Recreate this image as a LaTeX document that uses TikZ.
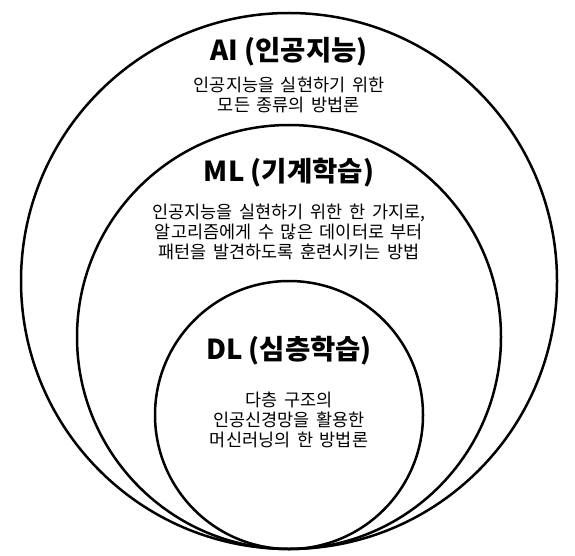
\documentclass[tikz,border=0pt]{standalone}
\usepackage{fontspec}
\setmainfont{Noto Sans CJK KR}
\usepackage{tikz}
\usetikzlibrary{positioning}
\newcommand{\widespace}{\spaceskip=0.38em\relax}
\tikzstyle{ring} = [circle, draw, line width=2.5pt, inner sep=0pt]
\tikzstyle{heading} = [align=center, font=\fontsize{27.5}{30}\selectfont\bfseries]
\tikzstyle{caption} = [align=center, font=\fontsize{17.5}{20}\selectfont\widespace]

\begin{document}
\begin{tikzpicture}[x=1pt, y=-1pt]
    \useasboundingbox (0, 0) rectangle (575, 556);
    \node[ring, minimum size=536pt] at (289, 281) (ai) {};
    \node[ring, minimum size=424pt] at (289, 337) (ml) {};
    \node[ring, minimum size=268pt] at (289, 415) (dl) {};

    \node[heading] at (289, 52) (ai_title) {AI (인공지능)};
    \node[caption] at (289, 95) (ai_text) {인공지능을 실현하기 위한\\모든 종류의 방법론};

    \node[heading] at (289, 173) (ml_title) {ML (기계학습)};
    \node[caption] at (289, 232) (ml_text) {인공지능을 실현하기 위한 한 가지로,\\알고리즘에게 수 많은 데이터로 부터\\패턴을 발견하도록 훈련시키는 방법};

    \node[heading] at (289, 351) (dl_title) {DL (심층학습)};
    \node[caption] at (289, 420) (dl_text) {다층 구조의\\인공신경망을 활용한\\머신러닝의 한 방법론};
\end{tikzpicture}
\end{document}
